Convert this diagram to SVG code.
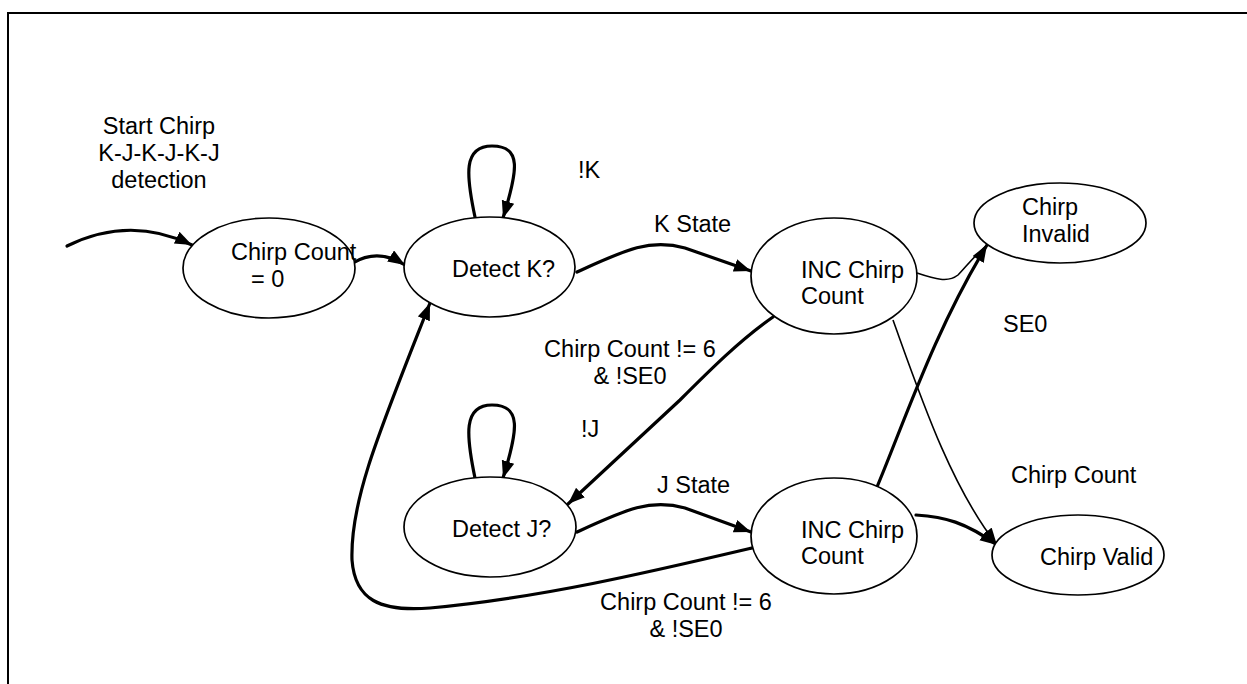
<svg xmlns="http://www.w3.org/2000/svg" width="1247" height="684" viewBox="0 0 1247 684">
<style>
  .node ellipse { fill: #fff; stroke: #000; stroke-width: 1.7; }
  text { font-family: "Liberation Sans", Arial, sans-serif; font-size: 23.5px; fill: #000; }
  .thick { fill: none; stroke: #000; stroke-width: 3.2; stroke-linecap: round; }
  .thin { fill: none; stroke: #000; stroke-width: 1.6; }
  .border { stroke: #000; stroke-width: 2; fill: none; }
</style>
<defs>
  <marker id="arrow" markerUnits="userSpaceOnUse" markerWidth="20" markerHeight="16" refX="17" refY="6.5" orient="auto">
    <path d="M0,0 L17,6.5 L0,13 z" fill="#000"/>
  </marker>
</defs>
<rect width="1247" height="684" fill="#fff"/>
<path class="border" d="M8,684 L8,13 L1247,13"/>

<g id="connectors">
  <path class="thick" d="M67,246 Q130,215 192,245" marker-end="url(#arrow)"/>
  <path class="thick" d="M353,263 Q378,248 405,265" marker-end="url(#arrow)"/>
  <path class="thick" d="M475,217 C466,175 463,146 492,146 C522,146 518,170 503,218" marker-end="url(#arrow)"/>
  <path class="thick" d="M577,272 C625,250 650,238 685,248 L751,271" marker-end="url(#arrow)"/>
  <path class="thick" d="M773,317 C740,340 710,370 680,400 L568,504" marker-end="url(#arrow)"/>
  <path class="thick" d="M475,478 C466,435 463,405 492,405 C522,405 518,430 503,478" marker-end="url(#arrow)"/>
  <path class="thick" d="M577,532 C625,510 650,498 685,508 L751,532" marker-end="url(#arrow)"/>
  <path class="thick" d="M752,548 C650,572 540,598 430,608 C380,612 355,600 352,560 C350,500 380,430 430,303" marker-end="url(#arrow)"/>
  <path class="thin" d="M917,273 C935,279 948,283 958,275 C965,268 975,255 987,245"/>
  <path class="thick" d="M877,487 C905,420 935,330 987,245" marker-end="url(#arrow)"/>
  <path class="thin" d="M893,320 C920,395 950,485 997,545" marker-end="url(#arrow)"/>
  <path class="thick" d="M916,515 C945,517 965,522 997,545" marker-end="url(#arrow)"/>
</g>

<g id="labels">
  <text x="159" y="134" text-anchor="middle">Start Chirp</text>
  <text x="159" y="161" text-anchor="middle">K-J-K-J-K-J</text>
  <text x="159" y="188" text-anchor="middle">detection</text>
  <text x="578" y="178">!K</text>
  <text x="654" y="232">K State</text>
  <text x="630" y="357" text-anchor="middle">Chirp Count != 6</text>
  <text x="630" y="384" text-anchor="middle">&amp; !SE0</text>
  <text x="581" y="437">!J</text>
  <text x="657" y="493">J State</text>
  <text x="686" y="610" text-anchor="middle">Chirp Count != 6</text>
  <text x="686" y="637" text-anchor="middle">&amp; !SE0</text>
  <text x="1003" y="332">SE0</text>
  <text x="1011" y="483">Chirp Count</text>
</g>

<g id="node-chirp-count-0" class="node">
  <ellipse cx="269" cy="268" rx="86" ry="50"/>
  <text x="231" y="260">Chirp Count</text>
  <text x="251" y="287">= 0</text>
</g>
<g id="node-detect-k" class="node">
  <ellipse cx="489.5" cy="267" rx="85.5" ry="50"/>
  <text x="452" y="277">Detect K?</text>
</g>
<g id="node-inc-chirp-1" class="node">
  <ellipse cx="834" cy="276" rx="83" ry="58"/>
  <text x="801" y="278">INC Chirp</text>
  <text x="801" y="304">Count</text>
</g>
<g id="node-chirp-invalid" class="node">
  <ellipse cx="1060" cy="223" rx="86" ry="40"/>
  <text x="1022" y="215">Chirp</text>
  <text x="1022" y="242">Invalid</text>
</g>
<g id="node-detect-j" class="node">
  <ellipse cx="490" cy="527" rx="86" ry="50"/>
  <text x="452" y="537">Detect J?</text>
</g>
<g id="node-inc-chirp-2" class="node">
  <ellipse cx="834" cy="536" rx="83" ry="58"/>
  <text x="801" y="538">INC Chirp</text>
  <text x="801" y="564">Count</text>
</g>
<g id="node-chirp-valid" class="node">
  <ellipse cx="1078" cy="555" rx="86" ry="40"/>
  <text x="1040" y="565">Chirp Valid</text>
</g>
</svg>
